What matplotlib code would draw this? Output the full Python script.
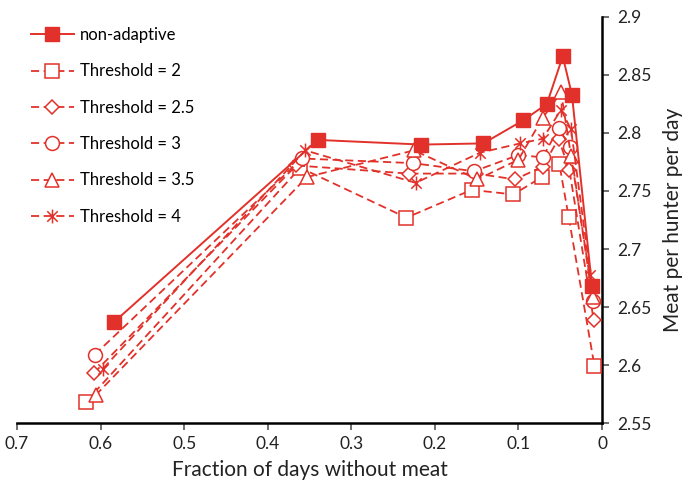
import matplotlib
matplotlib.use("Agg")
import matplotlib.pyplot as plt
from matplotlib.path import Path

# mean meat per hunter vs. fraction of days without meat
x_nonadaptive = [0.584, 0.340, 0.216, 0.142, 0.094, 0.066, 0.047, 0.036, 0.012]
y_nonadaptive = [2.637, 2.794, 2.790, 2.791, 2.811, 2.825, 2.866, 2.833, 2.668]

x_t2 = [0.618, 0.361, 0.234, 0.156, 0.106, 0.072, 0.051, 0.040, 0.009]
y_t2 = [2.568, 2.770, 2.727, 2.751, 2.747, 2.762, 2.773, 2.728, 2.599]

x_t25 = [0.608, 0.366, 0.231, 0.151, 0.104, 0.071, 0.052, 0.039, 0.010]
y_t25 = [2.593, 2.772, 2.765, 2.765, 2.760, 2.771, 2.795, 2.768, 2.639]

x_t3 = [0.607, 0.359, 0.226, 0.153, 0.100, 0.071, 0.052, 0.038, 0.011]
y_t3 = [2.609, 2.778, 2.774, 2.767, 2.781, 2.779, 2.804, 2.788, 2.655]

x_t35 = [0.606, 0.353, 0.225, 0.149, 0.100, 0.071, 0.049, 0.037, 0.011]
y_t35 = [2.574, 2.762, 2.785, 2.760, 2.777, 2.813, 2.835, 2.780, 2.659]

x_t4 = [0.597, 0.355, 0.223, 0.146, 0.098, 0.071, 0.049, 0.037, 0.014]
y_t4 = [2.597, 2.785, 2.757, 2.783, 2.791, 2.795, 2.820, 2.803, 2.678]

red = '#e2312a'
plt.rcParams['font.family'] = ['Lato', 'DejaVu Sans']

# asterisk marker: vertical bar plus an X
ast = Path([(0, -1), (0, 1), (-0.75, -0.75), (0.75, 0.75), (-0.75, 0.75), (0.75, -0.75)],
           [Path.MOVETO, Path.LINETO, Path.MOVETO, Path.LINETO, Path.MOVETO, Path.LINETO])

fig = plt.figure(figsize=(6.87, 4.83), dpi=100)
ax = fig.add_axes([0.0247, 0.124, 0.8516, 0.841])

dash = (0, (4.5, 2.5))
series = [
    (x_t2, y_t2, 's', 'Threshold = 2', 9.5),
    (x_t25, y_t25, 'D', 'Threshold = 2.5', 7.5),
    (x_t3, y_t3, 'o', 'Threshold = 3', 10),
    (x_t35, y_t35, '^', 'Threshold = 3.5', 10),
    (x_t4, y_t4, ast, 'Threshold = 4', 10),
]

ax.plot(x_nonadaptive, y_nonadaptive, '-', color=red, lw=1.4, marker='s',
        ms=10.5, mfc=red, mec=red, label='non-adaptive', zorder=5)
for xs, ys, mk, lab, ms in series:
    ax.plot(xs, ys, linestyle=dash, color=red, lw=1.3, marker=mk, ms=ms,
            mfc='white', mec=red, mew=1.1, label=lab, zorder=3)

ax.set_xlim(0.7, 0)
ax.set_ylim(2.55, 2.9)
ax.set_xticks([0.7, 0.6, 0.5, 0.4, 0.3, 0.2, 0.1, 0])
ax.set_xticklabels(['0.7', '0.6', '0.5', '0.4', '0.3', '0.2', '0.1', '0'])
ax.set_yticks([2.55, 2.6, 2.65, 2.7, 2.75, 2.8, 2.85, 2.9])
ax.set_yticklabels(['2.55', '2.6', '2.65', '2.7', '2.75', '2.8', '2.85', '2.9'])

ax.spines['top'].set_visible(False)
ax.spines['left'].set_visible(False)
ax.spines['bottom'].set_linewidth(1.8)
ax.spines['right'].set_linewidth(1.8)
ax.yaxis.tick_right()
ax.yaxis.set_label_position('right')
ax.tick_params(axis='both', direction='out', length=5, width=1.2, labelsize=12.5,
               color='#555555', labelcolor='#222222')
ax.tick_params(axis='x', pad=4)
ax.tick_params(axis='y', pad=6)

ax.set_xlabel('Fraction of days without meat', fontsize=15, color='#222222', labelpad=6)
ax.set_ylabel('Meat per hunter per day', fontsize=15, color='#222222', labelpad=8)

ax.legend(loc='upper left', bbox_to_anchor=(-0.002, 1.012), frameon=False, fontsize=12,
          handlelength=2.6, handletextpad=0.35, labelspacing=1.22, borderaxespad=0.5)

fig.savefig('out.png', dpi=100)
